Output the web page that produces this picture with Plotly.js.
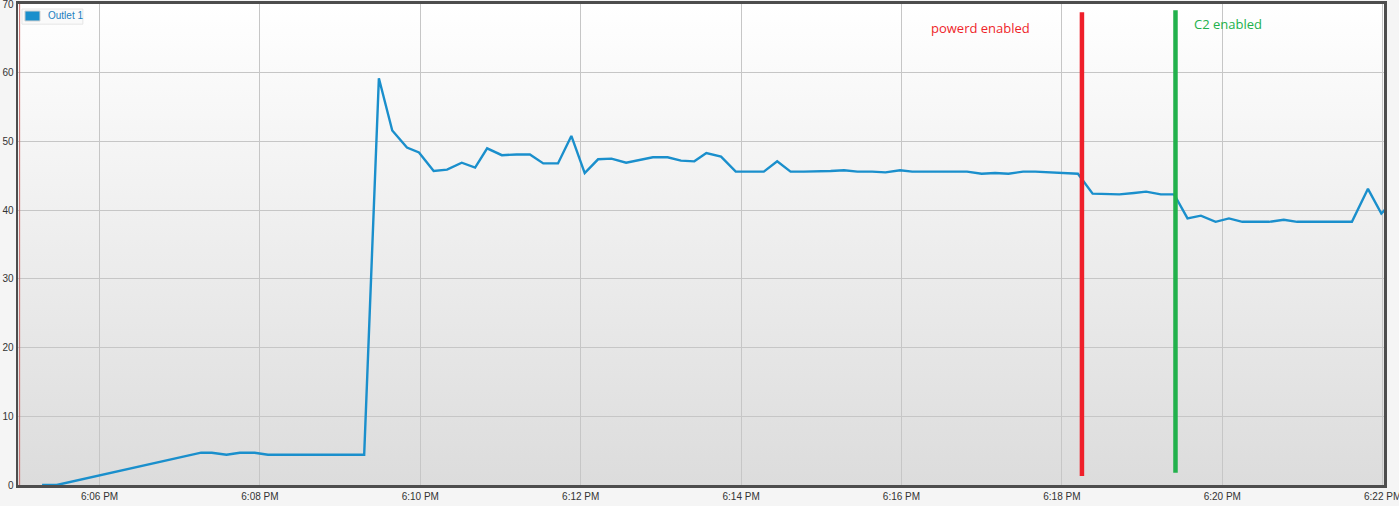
<!DOCTYPE html>
<html>
<head>
<meta charset="utf-8">
<script src="https://cdn.plot.ly/plotly-3.0.1.min.js"></script>
<style>html,body{margin:0;padding:0;background:#f5f5f5;}#chart{width:1399px;height:506px;}</style>
</head>
<body>
<div id="chart"></div>
<script>
// ---- data ----
const seriesName = 'Outlet 1';
const times = [
  '18:05:17','18:05:28','18:07:16','18:07:24','18:07:35','18:07:45','18:07:56','18:08:06','18:08:16','18:08:26',
  '18:08:36','18:08:46','18:08:57','18:09:07','18:09:18','18:09:29','18:09:39','18:09:50','18:09:59','18:10:10',
  '18:10:20','18:10:31','18:10:41','18:10:50','18:11:01','18:11:12','18:11:22','18:11:32','18:11:43','18:11:53',
  '18:12:03','18:12:13','18:12:23','18:12:34','18:12:44','18:12:54','18:13:05','18:13:15','18:13:25','18:13:34',
  '18:13:45','18:13:56','18:14:06','18:14:17','18:14:27','18:14:37','18:14:47','18:14:56','18:15:07','18:15:17',
  '18:15:27','18:15:38','18:15:48','18:15:59','18:16:08','18:16:19','18:16:28','18:16:39','18:16:49','18:17:00',
  '18:17:10','18:17:20','18:17:31','18:17:40','18:17:51','18:18:01','18:18:12','18:18:23','18:18:33','18:18:43',
  '18:18:54','18:19:03','18:19:14','18:19:24','18:19:34','18:19:44','18:19:55','18:20:05','18:20:15','18:20:26',
  '18:20:35','18:20:46','18:20:56','18:21:06','18:21:16','18:21:27','18:21:37','18:21:49','18:21:59','18:22:02'
];
const values = [
  0, 0, 4.7, 4.7, 4.4, 4.7, 4.7, 4.4, 4.4, 4.4,
  4.4, 4.4, 4.4, 4.4, 4.4, 59.2, 51.6, 49.1, 48.4, 45.7,
  45.9, 46.9, 46.2, 49.0, 48.0, 48.1, 48.1, 46.8, 46.8, 50.8,
  45.4, 47.4, 47.5, 46.9, 47.3, 47.7, 47.7, 47.2, 47.1, 48.3,
  47.8, 45.6, 45.6, 45.6, 47.1, 45.6, 45.6, 45.6, 45.7, 45.8,
  45.6, 45.6, 45.5, 45.8, 45.6, 45.6, 45.6, 45.6, 45.6, 45.3,
  45.4, 45.3, 45.6, 45.6, 45.5, 45.4, 45.3, 42.4, 42.3, 42.3,
  42.5, 42.7, 42.3, 42.3, 38.8, 39.2, 38.3, 38.8, 38.3, 38.3,
  38.3, 38.6, 38.3, 38.3, 38.3, 38.3, 38.3, 43.1, 39.5, 40.1
];
const day = '2023-01-01 ';
const xRange = ['18:04:59', '18:22:01'];
const yRange = [0, 70];

// event markers (vertical lines + labels)
const eventLabels = ['powerd enabled', 'C2 enabled'];
const eventTimes = ['18:18:15', '18:19:25'];
const eventYFrom = [1.3, 1.8];
const eventYTo = [68.8, 69.1];
const eventLabelTimes = ['18:16:59', '18:20:04'];
const eventLabelY = [66.5, 67.1];
const eventColors = ['#ef1f2a', '#22b14c'];

// ---- figure ----
const gradSvg = "<svg xmlns='http://www.w3.org/2000/svg' width='100' height='100' preserveAspectRatio='none'>" +
  "<defs><linearGradient id='g' x1='0' y1='0' x2='0' y2='1'>" +
  "<stop offset='0' stop-color='#ffffff'/><stop offset='1' stop-color='#dcdcdc'/>" +
  "</linearGradient></defs><rect width='100' height='100' fill='url(#g)'/></svg>";
const gradSrc = 'data:image/svg+xml;charset=utf-8,' + encodeURIComponent(gradSvg);

const trace = {
  type: 'scatter', mode: 'lines', name: seriesName,
  x: times.map(t => day + t), y: values,
  line: {color: '#1a8fcc', width: 2.4},
  showlegend: false, hoverinfo: 'x+y'
};

const shapes = [];
const annotations = [];
eventTimes.forEach((t, i) => {
  shapes.push({type: 'line', xref: 'x', yref: 'y', x0: day + t, x1: day + t,
    y0: eventYFrom[i], y1: eventYTo[i], line: {color: eventColors[i], width: 4.5}});
  annotations.push({xref: 'x', yref: 'y', x: day + eventLabelTimes[i], y: eventLabelY[i],
    text: eventLabels[i], showarrow: false, xanchor: 'center', yanchor: 'middle',
    font: {family: 'Open Sans, sans-serif', size: 13, color: eventColors[i]}});
});
// red inner edge of left border
shapes.push({type: 'line', xref: 'paper', yref: 'paper', x0: 0.0012, x1: 0.0012, y0: 0, y1: 1,
  line: {color: '#c86a6a', width: 1}});
// manual legend
shapes.push({type: 'rect', xref: 'paper', yref: 'paper', x0: 0.0029, x1: 0.0475, y0: 0.958, y1: 0.9896,
  fillcolor: 'rgba(250,250,250,0.9)', line: {color: 'rgba(230,230,230,1)', width: 1}});
shapes.push({type: 'rect', xref: 'paper', yref: 'paper', x0: 0.0051, x1: 0.0161, y0: 0.9647, y1: 0.9854,
  fillcolor: '#1a8fcc', line: {color: '#d0d0d0', width: 1}});
annotations.push({xref: 'paper', yref: 'paper', x: 0.0205, y: 0.9755, text: seriesName, showarrow: false,
  xanchor: 'left', yanchor: 'middle', font: {family: 'Liberation Sans, Arial, sans-serif', size: 10, color: '#1a7fc0'}});

const layout = {
  width: 1399, height: 506,
  margin: {l: 18, r: 15, t: 4, b: 21, pad: 0},
  paper_bgcolor: '#f5f5f5',
  plot_bgcolor: 'rgba(0,0,0,0)',
  showlegend: false,
  images: [{source: gradSrc, xref: 'paper', yref: 'paper', x: 0, y: 1, sizex: 1, sizey: 1,
    sizing: 'stretch', xanchor: 'left', yanchor: 'top', layer: 'below'}],
  xaxis: {
    type: 'date', range: xRange.map(t => day + t),
    tick0: day + '18:00:00', dtick: 120000, tickformat: '%-I:%M %p',
    showgrid: true, gridcolor: '#c6c6c6', gridwidth: 1,
    showline: true, linecolor: '#4d4d4d', linewidth: 3, mirror: true,
    ticks: '', zeroline: false, automargin: false, ticklabeloverflow: 'allow',
    tickfont: {family: 'Liberation Sans, Arial, sans-serif', size: 10, color: '#333333'}
  },
  yaxis: {
    range: yRange, dtick: 10, tick0: 0,
    showgrid: true, gridcolor: '#c6c6c6', gridwidth: 1,
    showline: true, linecolor: '#4d4d4d', linewidth: 2.5, mirror: true,
    ticks: '', zeroline: false, automargin: false, ticklabeloverflow: 'allow',
    tickfont: {family: 'Liberation Sans, Arial, sans-serif', size: 10, color: '#333333'}
  },
  shapes: shapes,
  annotations: annotations
};

Plotly.newPlot('chart', [trace], layout, {displayModeBar: false, staticPlot: true});
</script>
</body>
</html>
